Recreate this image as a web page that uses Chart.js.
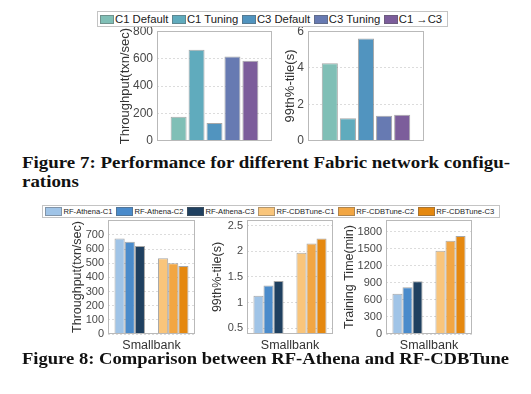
<!DOCTYPE html>
<html><head><meta charset="utf-8">
<script src="https://cdn.jsdelivr.net/npm/chart.js@4.4.1/dist/chart.umd.min.js"></script>
<style>
html,body{margin:0;padding:0;background:#fff}
body{width:531px;height:394px;overflow:hidden;position:relative;font-family:"Liberation Sans",Arial,sans-serif}
canvas{position:absolute}
.legend{position:absolute;border:1px solid #c4c4c4;background:#fff;display:flex;align-items:center;box-sizing:border-box;white-space:nowrap;color:#222;z-index:5}
.legend .it{display:flex;align-items:center}
.legend .sw{display:inline-block;box-sizing:border-box;border:1px solid rgba(90,90,90,0.45)}
#lg7{left:97px;top:11px;height:16px;padding:0 1px 0 2px;font-size:11.3px}
#lg7 .sw{width:14px;height:9px;margin-right:1px}
#lg7 .it{margin-right:3.5px}
#lg8{left:42px;top:205px;height:12.5px;padding:0 1px 0 2px;font-size:7.6px}
#lg8 .sw{width:17px;height:8.5px;margin-right:1.5px}
#lg8 .it{margin-right:3.5px}
.cap{position:absolute;left:22px;font-family:"Liberation Serif","Times New Roman",serif;font-weight:bold;font-size:17px;line-height:17px;color:#111;white-space:nowrap;transform-origin:0 0}
</style>
</head><body>
<div id="lg7" class="legend"></div>
<div id="lg8" class="legend"></div>
<canvas id="f7a" width="166" height="132" style="left:110px;top:20px"></canvas>
<canvas id="f7b" width="166" height="132" style="left:262px;top:20px"></canvas>
<canvas id="f8a" width="140" height="160" style="left:60px;top:200px"></canvas>
<canvas id="f8b" width="138" height="160" style="left:200px;top:200px"></canvas>
<canvas id="f8c" width="139" height="160" style="left:338px;top:200px"></canvas>
<div class="cap" id="cap7a" style="top:153.5px">Figure 7: Performance for different Fabric network configu-</div>
<div class="cap" id="cap7b" style="top:172.5px">rations</div>
<div class="cap" id="cap8" style="top:350.3px">Figure 8: Comparison between RF-Athena and RF-CDBTune</div>
<script>
// ---------- Data ----------
const fig7Series = ['C1 Default', 'C1 Tuning', 'C3 Default', 'C3 Tuning', 'C1 \u2192C3'];
const fig7Colors = ['#80bfb6', '#60abbd', '#5194bf', '#677ab2', '#7c5d9b'];
const fig7Throughput = [175, 665, 130, 615, 585];
const fig7Latency = [4.25, 1.23, 5.6, 1.37, 1.42];
const fig7ThroughputTicks = [0, 200, 400, 600, 800];
const fig7LatencyTicks = [0, 2, 4, 6];

const fig8Series = ['RF-Athena-C1', 'RF-Athena-C2', 'RF-Athena-C3', 'RF-CDBTune-C1', 'RF-CDBTune-C2', 'RF-CDBTune-C3'];
const fig8Colors = ['#a0c4e7', '#4a8bcb', '#1f4060', '#f9c57b', '#f2a643', '#e5880f'];
const fig8Groups = [0, 0, 0, 1, 1, 1];
const fig8Throughput = [675, 652, 622, 535, 500, 480];
const fig8Latency = [1.13, 1.33, 1.42, 1.97, 2.15, 2.25];
const fig8Training = [710, 825, 930, 1470, 1645, 1730];
const fig8ThroughputTicks = [0, 100, 200, 300, 400, 500, 600, 700];
const fig8LatencyTicks = [0.5, 1, 1.5, 2, 2.5];
const fig8TrainingTicks = [0, 300, 600, 900, 1200, 1500, 1800];
const fig8Category = 'Smallbank';

// ---------- Helpers ----------
const FONT = '"Liberation Sans", Arial, sans-serif';
const EDGE = 'rgba(95,95,95,0.55)';

const boxPlugin = {
  id: 'box',
  afterDatasetsDraw(chart) {
    const {ctx, chartArea: a} = chart;
    ctx.save();
    ctx.strokeStyle = '#b9b9b9';
    ctx.lineWidth = 1;
    const l = Math.round(a.left) + 0.5, t = Math.round(a.top) + 0.5;
    const r = Math.round(a.right) - 0.5, b = Math.round(a.bottom) - 0.5;
    ctx.strokeRect(l, t, r - l, b - t);
    ctx.restore();
  }
};

function yScale(o) {
  return {
    min: o.min, max: o.max,
    afterBuildTicks: s => { s.ticks = o.ticks.map(v => ({value: v})); },
    afterFit: s => { s.width = o.axisW; },
    ticks: {font: {family: FONT, size: o.tickSize}, color: '#484848', padding: 4, callback: v => String(v)},
    grid: {color: '#dcdcdc', drawTicks: false, lineWidth: 1},
    border: {display: false, dash: [2, 2]},
    title: {display: true, text: o.title, color: '#333', font: {family: FONT, size: o.titleSize}, padding: {top: o.titlePad, bottom: 0}}
  };
}

function baseOptions(padding) {
  return {
    responsive: false, animation: false, devicePixelRatio: 1,
    layout: {padding},
    plugins: {legend: {display: false}, tooltip: {enabled: false}}
  };
}

// ---------- Figure 7 ----------
function fig7Chart(id, values, y) {
  const opts = baseOptions({top: 11, bottom: 11, right: 4, left: 0});
  opts.scales = {
    x: {display: false},
    y: yScale(y)
  };
  return new Chart(document.getElementById(id), {
    type: 'bar',
    data: {
      labels: [''],
      datasets: fig7Series.map((name, i) => ({
        label: name, data: [values[i]],
        backgroundColor: fig7Colors[i], borderColor: EDGE, borderWidth: 1,
        categoryPercentage: 0.78, barPercentage: 0.89
      }))
    },
    options: opts,
    plugins: [boxPlugin]
  });
}
fig7Chart('f7a', fig7Throughput, {min: 0, max: 800, ticks: fig7ThroughputTicks, title: 'Throughput(txn/sec)', axisW: 47, tickSize: 12, titleSize: 13, titlePad: 7.2});
fig7Chart('f7b', fig7Latency, {min: 0, max: 6, ticks: fig7LatencyTicks, title: '99th%-tile(s)', axisW: 46, tickSize: 12, titleSize: 13, titlePad: 20.2});

// ---------- Figure 8 ----------
function fig8Chart(id, values, y) {
  const opts = baseOptions({top: 20, bottom: 0, right: 5, left: 0});
  opts.scales = {
    x: {
      ticks: {display: false}, grid: {display: false}, border: {display: false},
      afterFit: s => { s.height = 26; },
      title: {display: true, text: fig8Category, color: '#333', font: {family: FONT, size: 12.5}, padding: {top: 0, bottom: 6.5}}
    },
    y: yScale(y)
  };
  return new Chart(document.getElementById(id), {
    type: 'bar',
    data: {
      labels: ['g1', 'g2'],
      datasets: fig8Series.map((name, i) => ({
        label: name,
        data: [0, 1].map(g => g === fig8Groups[i] ? values[i] : null),
        backgroundColor: fig8Colors[i], borderColor: EDGE, borderWidth: 1,
        categoryPercentage: 0.7, barPercentage: 1.0, skipNull: true
      }))
    },
    options: opts,
    plugins: [boxPlugin]
  });
}
fig8Chart('f8a', fig8Throughput, {min: 0, max: 806, ticks: fig8ThroughputTicks, title: 'Throughput(txn/sec)', axisW: 48, tickSize: 11, titleSize: 12.5, titlePad: 10.2});
fig8Chart('f8b', fig8Latency, {min: 0.385, max: 2.61, ticks: fig8LatencyTicks, title: '99th%-tile(s)', axisW: 47, tickSize: 11, titleSize: 12.5, titlePad: 10.2});
fig8Chart('f8c', fig8Training, {min: 0, max: 2010, ticks: fig8TrainingTicks, title: 'Training Time(min)', axisW: 48, tickSize: 11, titleSize: 12.5, titlePad: 4.2});

// ---------- Legends (HTML, built from the series arrays) ----------
function buildLegend(elId, names, colors) {
  const el = document.getElementById(elId);
  names.forEach((n, i) => {
    const it = document.createElement('span'); it.className = 'it';
    const sw = document.createElement('span'); sw.className = 'sw'; sw.style.background = colors[i];
    const tx = document.createElement('span'); tx.textContent = n;
    it.appendChild(sw); it.appendChild(tx); el.appendChild(it);
  });
}
buildLegend('lg7', fig7Series, fig7Colors);
buildLegend('lg8', fig8Series, fig8Colors);

// ---------- Caption widths ----------
function fit(ids, target) {
  const w = document.getElementById(ids[0]).getBoundingClientRect().width;
  const s = target / w;
  ids.forEach(id => { document.getElementById(id).style.transform = 'scaleX(' + s + ')'; });
}
fit(['cap7a', 'cap7b'], 488);
fit(['cap8'], 487);
</script>
</body></html>
